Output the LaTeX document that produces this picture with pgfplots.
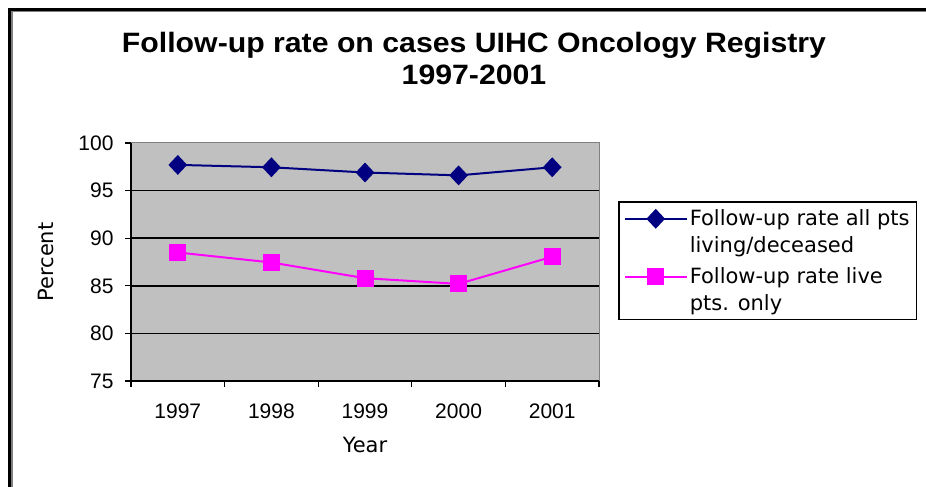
\documentclass[border=0pt]{standalone}
\usepackage{pgfplots}
\pgfplotsset{compat=1.18}
\usepackage{fontspec}
\setmainfont{Liberation Sans}
\newfontfamily\dejavu{DejaVu Sans}
\definecolor{navyblue}{HTML}{000080}
\definecolor{excelpink}{HTML}{FF00FF}
\definecolor{plotgray}{HTML}{C0C0C0}
\definecolor{bordergray}{HTML}{808080}
\begin{document}
\begin{tikzpicture}[x=1pt,y=1pt]
\path[use as bounding box] (0,0) rectangle (926,487);
\draw[line width=3pt,black] (9.5,0) -- (9.5,477.5) -- (926,477.5);
\draw[line width=1.5pt,bordergray] (11.75,0) -- (11.75,475.25) -- (926,475.25);
\node[font=\fontsize{28}{32}\selectfont\bfseries, align=center, xscale=1.08] at (474,429)
  {Follow-up rate on cases UIHC Oncology Registry\\1997-2001};
\begin{axis}[
  at={(131pt,106pt)}, anchor=south west,
  scale only axis, width=468pt, height=238pt,
  xmin=-0.5, xmax=4.5, ymin=75, ymax=100,
  axis x line*=bottom, axis y line*=left,
  axis line style={line width=1.5pt, black},
  axis background/.style={fill=plotgray, draw=bordergray, line width=1pt},
  xtick={0,1,2,3,4}, xticklabels={1997,1998,1999,2000,2001},
  major x tick style={draw=none},
  minor xtick={-0.5,0.5,1.5,2.5,3.5,4.5},
  ytick={75,80,85,90,95,100},
  extra y ticks={80,85,90,95}, extra y tick labels={},
  extra tick style={grid=major, major grid style={black, line width=1.5pt}},
  tick align=outside, major tick length=6pt, minor tick length=6pt,
  tick style={black, line width=1.2pt},
  /pgf/number format/assume math mode=true,
  /pgf/number format/1000 sep={},
  ticklabel style={font=\fontsize{21}{25}\selectfont},
  xticklabel style={yshift=-13pt},
  yticklabel style={xshift=-8pt},
  xlabel={Year}, ylabel={Percent},
  label style={font=\fontsize{21}{25}\selectfont\dejavu},
  xlabel style={yshift=-12pt},
  ylabel style={yshift=6pt},
  legend style={at={(1.0406,0.756)}, anchor=north west, draw=black, line width=1.5pt,
    font=\fontsize{21}{26.5}\selectfont\dejavu, cells={anchor=west, align=left},
    inner xsep=5pt, inner ysep=6pt, row sep=10pt},
  legend image code/.code={\path[draw=none] (0pt,-13pt) -- (62pt,-13pt);\draw[#1,mark repeat=2,mark phase=2] plot coordinates {(0pt,13pt) (31pt,13pt) (62pt,13pt)};},
  clip=false,
]
\addplot[navyblue, line width=2pt, mark=diamond*, mark size=8.5pt, mark options={xscale=1.25, solid}]
  coordinates {(0,97.7) (1,97.45) (2,96.9) (3,96.6) (4,97.45)};
\addlegendentry{Follow-up rate all pts\\living/deceased}
\addplot[excelpink, line width=2pt, mark=square*, mark size=7.5pt, mark options={solid}]
  coordinates {(0,88.5) (1,87.45) (2,85.8) (3,85.2) (4,88.05)};
\addlegendentry{Follow-up rate live\\pts. only}
\end{axis}
\end{tikzpicture}
\end{document}
